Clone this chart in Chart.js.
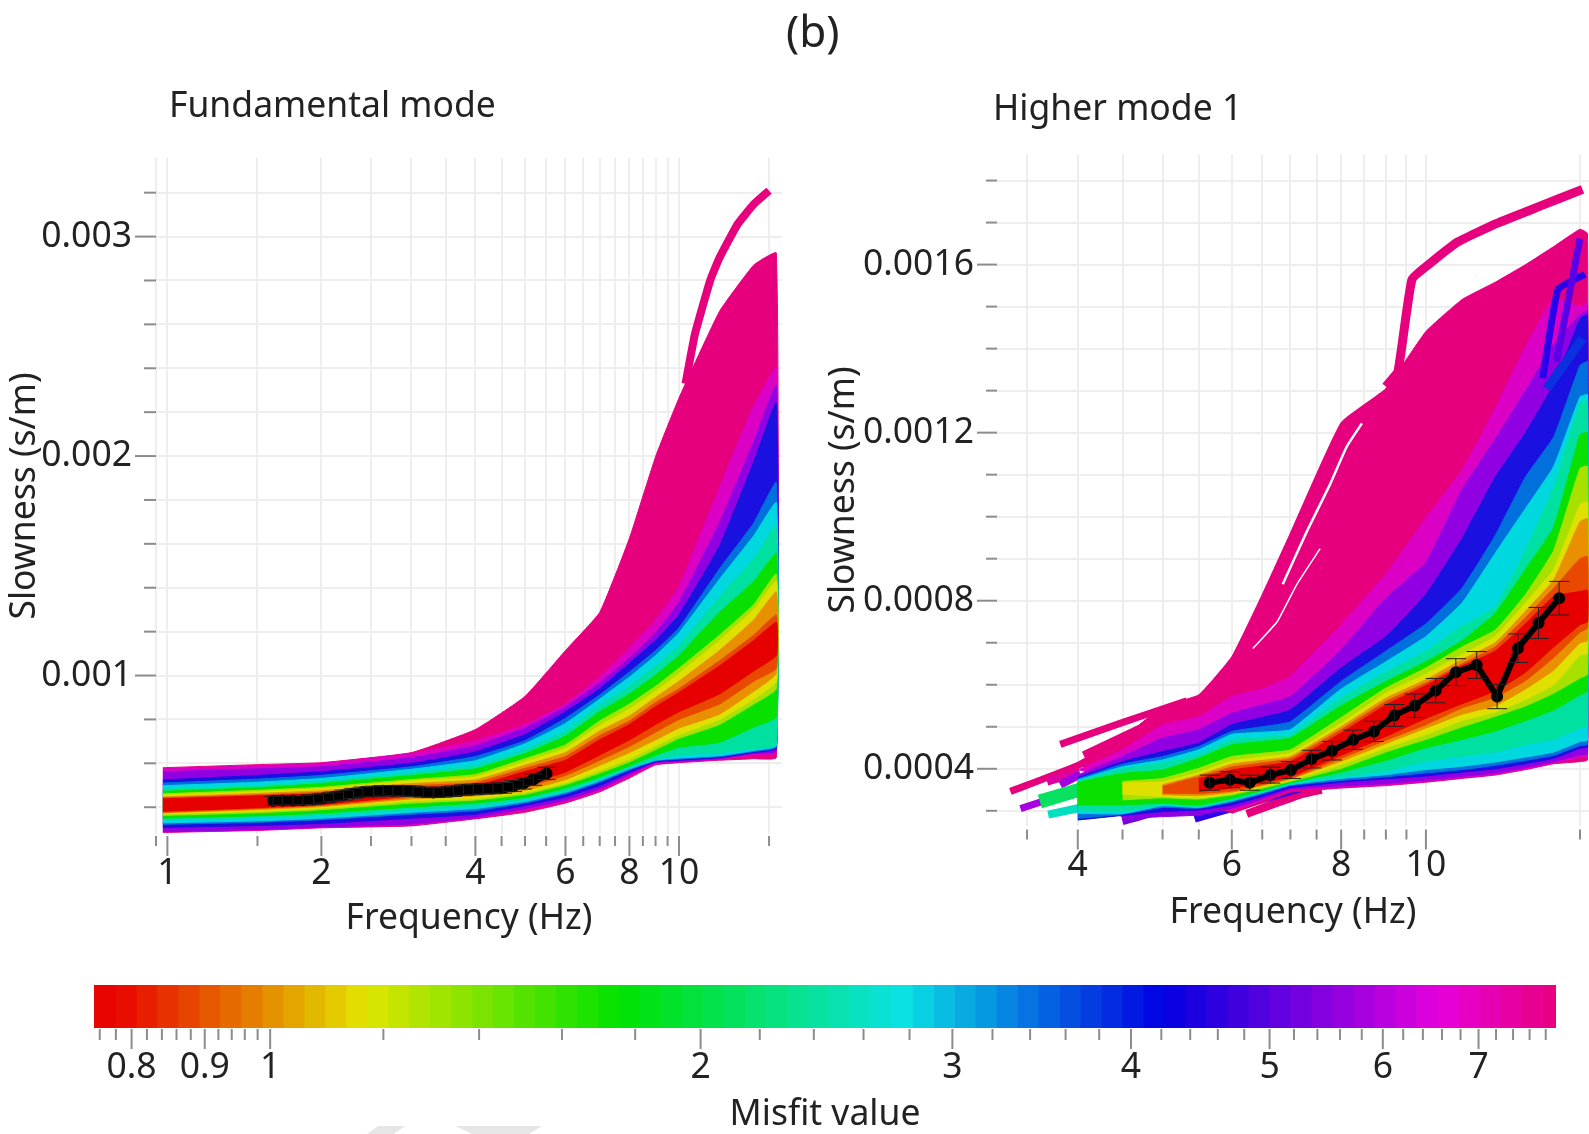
<!DOCTYPE html>
<html>
<head>
<meta charset="utf-8">
<title>Misfit curves</title>
<script src="https://cdn.jsdelivr.net/npm/chart.js@4"></script>
<style>
  html, body { margin: 0; padding: 0; background: #fff; width: 1589px; height: 1134px; overflow: hidden; }
  body { position: relative; font-family: "Noto Sans", sans-serif; color: #222; }
  .holder { position: absolute; filter: blur(0.7px); }
  .holder canvas { display: block; }
  .label { position: absolute; white-space: nowrap; filter: blur(0.5px); line-height: 1; }
  .mark { position: absolute; background: #e6e6e6; }
</style>
</head>
<body>
<div class="mark" style="left:367px;top:1126px;width:38px;height:8px;clip-path:polygon(30% 0,100% 0,70% 100%,0 100%)"></div>
<div class="mark" style="left:455px;top:1126px;width:87px;height:8px;clip-path:polygon(0 0,100% 0,85% 100%,20% 100%)"></div>
<div class="label" style="left:786px;top:8px;font-size:44px">(b)</div>
<div class="label" style="left:169px;top:86px;font-size:35.5px">Fundamental mode</div>
<div class="label" style="left:993px;top:89px;font-size:35.5px">Higher mode 1</div>
<div class="holder" style="left:0;top:140px;width:800px;height:810px"><canvas id="fundChart" width="800" height="810"></canvas></div>
<div class="holder" style="left:800px;top:140px;width:789px;height:810px"><canvas id="modeChart" width="789" height="810"></canvas></div>
<div class="holder" style="left:0;top:960px;width:1589px;height:174px"><canvas id="barChart" width="1589" height="174"></canvas></div>
<script>
// slowness values are in 1e-6 s/m
const levelColors = ['#e6007e', '#dc00c4', '#9000e2', '#1a10e0', '#0070dc', '#00d8e0', '#00e0a0', '#08e000', '#a8e000', '#e0e000', '#e89000', '#e84800', '#e60000'];

// Fundamental mode
const fundFreq = [0.98, 1.5, 2, 3, 4, 5, 6, 7, 8, 9, 10, 12, 14, 15.5];
const fundPinkHi = [580, 594, 603, 649, 754, 905, 1114, 1288, 1625, 1997, 2264, 2659, 2870, 2925];
const fundMagHi = [575, 589, 600, 645, 703, 777, 870, 993, 1125, 1253, 1404, 1857, 2229, 2403];
const fundPurHi = [561, 575, 584, 626, 680, 761, 858, 967, 1079, 1195, 1334, 1695, 2066, 2322];
const fundBlueHi = [524, 545, 561, 600, 652, 731, 835, 940, 1056, 1160, 1276, 1590, 1973, 2241];
const fundLblueHi = [510, 528, 545, 584, 631, 703, 805, 912, 1016, 1114, 1218, 1486, 1695, 1880];
const fundCyanHi = [498, 514, 531, 573, 612, 689, 782, 893, 993, 1091, 1195, 1439, 1637, 1788];
const fundTealHi = [482, 498, 517, 556, 589, 661, 747, 863, 951, 1044, 1137, 1358, 1532, 1683];
const fundGreenHi = [473, 489, 508, 545, 575, 645, 724, 835, 916, 1002, 1091, 1288, 1428, 1555];
const fundLimeHi = [461, 477, 491, 526, 549, 621, 684, 793, 870, 951, 1033, 1184, 1323, 1462];
const fundYellowHi = [454, 470, 484, 519, 538, 607, 668, 772, 847, 928, 1009, 1160, 1300, 1428];
const fundOrangeHi = [447, 463, 475, 508, 524, 591, 649, 747, 816, 900, 974, 1114, 1253, 1381];
const fundOredHi = [443, 456, 468, 498, 512, 577, 631, 726, 793, 877, 940, 1067, 1184, 1276];
const fundRedHi = [438, 452, 461, 489, 498, 563, 614, 707, 777, 858, 923, 1044, 1160, 1242];
const fundRedLo = [382, 398, 412, 452, 475, 505, 561, 638, 707, 777, 835, 916, 1021, 1091];
const fundOredLo = [377, 394, 408, 445, 463, 491, 545, 614, 677, 742, 800, 870, 974, 1033];
const fundOrangeLo = [375, 389, 403, 438, 452, 477, 526, 591, 649, 707, 761, 824, 928, 1009];
const fundYellowLo = [370, 382, 396, 429, 440, 468, 512, 568, 621, 680, 731, 800, 893, 974];
const fundLimeLo = [363, 375, 389, 419, 433, 459, 503, 556, 607, 663, 714, 777, 870, 940];
const fundGreenLo = [350, 361, 373, 401, 419, 445, 487, 538, 589, 638, 673, 696, 765, 812];
const fundTealLo = [343, 354, 363, 389, 405, 436, 475, 528, 582, 621, 638, 649, 668, 684];
const fundCyanLo = [329, 338, 350, 377, 394, 426, 468, 521, 575, 614, 624, 635, 659, 680];
const fundLblueLo = [322, 331, 343, 368, 384, 419, 461, 514, 570, 612, 619, 631, 654, 675];
const fundBlueLo = [308, 317, 326, 350, 368, 408, 447, 498, 559, 607, 614, 626, 649, 670];
const fundPurLo = [289, 299, 310, 324, 354, 394, 433, 484, 549, 603, 610, 621, 645, 656];
const fundMagLo = [287, 296, 308, 320, 350, 387, 426, 477, 542, 598, 607, 619, 638, 649];
const fundPinkLo = [285, 294, 306, 315, 347, 377, 419, 470, 533, 593, 603, 614, 621, 626];
const fundOutFreq = [10.3, 10.74, 11.5, 12, 13, 14, 15];
const fundOutVals = [2330, 2554, 2798, 2903, 3054, 3147, 3209];
const fundObsFreq = [1.61, 1.68, 1.76, 1.84, 1.93, 2.02, 2.11, 2.21, 2.31, 2.41, 2.53, 2.64, 2.76, 2.89, 3.02, 3.16, 3.31, 3.46, 3.62, 3.79, 3.96, 4.14, 4.33, 4.53, 4.74, 4.96, 5.19, 5.51];
const fundObsVals = [429, 431, 431, 432, 435, 441, 447, 455, 463, 469, 472, 475, 475, 475, 473, 469, 467, 469, 473, 478, 481, 484, 485, 488, 496, 508, 526, 554];
const fundObsErr = [21, 21, 21, 21, 22, 22, 22, 23, 23, 23, 24, 24, 24, 24, 24, 23, 23, 23, 24, 24, 24, 24, 24, 24, 25, 25, 26, 28];
const fundTicksX = [0.95, 1, 1.5, 2, 2.5, 3, 3.5, 4, 4.5, 5, 5.5, 6, 6.5, 7, 7.5, 8, 8.5, 9, 9.5, 10, 15];
const fundLabelsX = [1, 2, 4, 6, 8, 10];
const fundTicksY = [400, 600, 800, 1000, 1200, 1400, 1600, 1800, 2000, 2200, 2400, 2600, 2800, 3000, 3200];
const fundLabelsY = [1000, 2000, 3000];

// Higher mode 1
const modeFreq = [4, 4.5, 5, 5.5, 6, 6.5, 7, 8, 9, 10, 11, 12, 13, 14, 15, 15.3];
const modePinkHi = [408, 473, 548, 576, 667, 815, 961, 1224, 1305, 1441, 1517, 1558, 1600, 1643, 1684, 1674];
const modeMagHi = [397, 445, 504, 524, 572, 590, 620, 743, 864, 997, 1112, 1258, 1405, 1520, 1500, 1510];
const modePurHi = [385, 429, 473, 493, 532, 552, 572, 683, 806, 892, 1065, 1185, 1300, 1410, 1480, 1490];
const modeBlueHi = [379, 417, 441, 461, 505, 522, 540, 640, 715, 815, 948, 1094, 1200, 1315, 1470, 1480];
const modeLblueHi = [376, 411, 429, 453, 489, 500, 512, 608, 680, 745, 830, 955, 1095, 1190, 1360, 1369];
const modeCyanHi = [373, 405, 421, 445, 482, 487, 493, 590, 655, 715, 795, 913, 1020, 1120, 1285, 1290];
const modeTealHi = [371, 400, 413, 433, 469, 475, 481, 568, 630, 680, 740, 785, 920, 1070, 1270, 1275];
const modeGreenHi = [368, 389, 397, 425, 457, 465, 473, 550, 608, 655, 705, 770, 875, 975, 1195, 1200];
const modeLimeHi = [null, 370, 377, 401, 429, 437, 445, 522, 592, 640, 690, 730, 815, 920, 1115, 1120];
const modeYellowHi = [null, 366, 369, 391, 419, 428, 437, 508, 580, 625, 672, 715, 795, 875, 1028, 1035];
const modeOrangeHi = [null, null, 362, 385, 411, 420, 429, 500, 568, 612, 660, 700, 775, 850, 988, 995];
const modeOredHi = [null, null, 358, 381, 404, 414, 424, 493, 560, 604, 650, 690, 760, 830, 900, 905];
const modeRedHi = [null, null, null, 376, 397, 407, 417, 485, 552, 598, 645, 680, 745, 810, 822, 825];
const modeRedLo = [null, null, null, 346, 354, 367, 381, 432, 477, 520, 555, 585, 630, 690, 743, 750];
const modeOredLo = [null, null, 342, 341, 347, 362, 377, 425, 468, 505, 545, 570, 610, 665, 725, 735];
const modeOrangeLo = [null, null, 338, 336, 344, 360, 376, 418, 460, 497, 530, 550, 590, 635, 700, 705];
const modeYellowLo = [null, 340, 334, 331, 341, 357, 373, 410, 450, 482, 515, 535, 565, 600, 671, 675];
const modeLimeLo = [null, 326, 331, 328, 338, 354, 370, 401, 440, 470, 500, 525, 550, 580, 616, 625];
const modeGreenLo = [314, 314, 318, 314, 330, 348, 367, 392, 420, 450, 470, 490, 515, 540, 576, 585];
const modeTealLo = [302, 298, 314, 310, 326, 345, 365, 381, 395, 418, 430, 440, 458, 470, 497, 500];
const modeCyanLo = [294, 293, 312, 308, 324, 343, 362, 377, 386, 398, 406, 416, 428, 440, 465, 468];
const modeLblueLo = [282, 292, 308, 306, 321, 340, 360, 372, 381, 390, 398, 408, 420, 432, 455, 458];
const modeBlueLo = [278, 289, 298, 302, 314, 334, 355, 368, 376, 383, 392, 400, 412, 425, 449, 452];
const modePurLo = [null, 282, 286, 290, 306, 328, 351, 359, 365, 373, 382, 390, 403, 417, 433, 436];
const modeMagLo = [null, null, null, null, 302, 325, 349, 356, 362, 370, 379, 387, 400, 414, 427, 429];
const modePinkLo = [null, null, null, null, 294, 319, 344, 354, 360, 368, 377, 385, 398, 412, 417, 421];

// single curves that stand apart from the fan
const outTopFreq = [9.0, 9.29, 9.64, 10.18, 10.9, 12.05, 13.5, 15.1];
const outTopVals = [1310, 1346, 1565, 1608, 1655, 1698, 1739, 1779];
const stripTopFreq = [3.82, 4.47, 5.33];
const stripTopVals = [458, 508, 562];
const stripMidFreq = [4.06, 4.75, 5.2];
const stripMidVals = [433, 500, 530];
const stripLowFreq = [3.35, 4.02, 4.75];
const stripLowVals = [346, 410, 496];
const stripMagFreq = [3.69, 4.02];
const stripMagVals = [369, 393];
const stripPurFreq = [3.44, 3.79, 4.1];
const stripPurVals = [305, 334, 355];
const stripPur3Freq = [3.82, 4.02];
const stripPur3Vals = [362, 386];
const stripGreenFreq = [3.62, 4.2];
const stripGreenVals = [322, 362];
const stripTealFreq = [3.7, 4.2];
const stripTealVals = [291, 315];
const stripPur2Freq = [4.5, 4.93, 5.33];
const stripPur2Vals = [274, 298, 329];
const stripBlueFreq = [5.44, 7.17];
const stripBlueVals = [281, 353];
const stripPink2Freq = [6.24, 7.17, 7.6];
const stripPink2Vals = [293, 338, 350];
const tipBlueFreq = [13.6, 14.16, 15.2];
const tipBlueVals = [1329, 1541, 1577];
const tipPurFreq = [14.1, 15];
const tipPurVals = [1369, 1662];
const tipBlue2Freq = [13.75, 15.1];
const tipBlue2Vals = [1305, 1424];
const gapAFreq = [6.34, 6.76, 7.12, 7.57];
const gapAVals = [686, 750, 839, 924];
const gapBFreq = [6.86, 7.31, 7.77, 8.12, 8.45];
const gapBVals = [839, 965, 1077, 1167, 1222];
const modeObsFreq = [5.66, 5.97, 6.29, 6.64, 7.01, 7.4, 7.81, 8.26, 8.72, 9.2, 9.71, 10.26, 10.82, 11.43, 12.06, 12.74, 13.45, 14.2];
const modeObsVals = [367, 374, 367, 385, 397, 423, 443, 469, 489, 527, 550, 586, 630, 647, 572, 687, 747, 806];
const modeObsErr = [18, 19, 18, 19, 20, 21, 22, 23, 24, 26, 28, 29, 32, 32, 29, 34, 37, 40];
const modeTicksX = [3.5, 4, 4.5, 5, 5.5, 6, 6.5, 7, 7.5, 8, 8.5, 9, 9.5, 10, 15];
const modeLabelsX = [4, 6, 8, 10];
const modeTicksY = [300, 400, 500, 600, 700, 800, 900, 1000, 1100, 1200, 1300, 1400, 1500, 1600, 1700, 1800];
const modeLabelsY = [400, 800, 1200, 1600];

// Colour bar
const misfitEdges = [0.753, 0.779, 0.806, 0.833, 0.862, 0.892, 0.922, 0.954, 0.987, 1.021, 1.056, 1.092, 1.13, 1.169, 1.209, 1.25, 1.293, 1.338, 1.384, 1.431, 1.48, 1.531, 1.584, 1.638, 1.695, 1.753, 1.813, 1.875, 1.94, 2.006, 2.075, 2.147, 2.22, 2.297, 2.376, 2.457, 2.542, 2.629, 2.72, 2.813, 2.91, 3.01, 3.113, 3.22, 3.331, 3.445, 3.564, 3.686, 3.813, 3.944, 4.08, 4.22, 4.365, 4.515, 4.67, 4.831, 4.997, 5.169, 5.346, 5.53, 5.72, 5.917, 6.12, 6.33, 6.55, 6.775, 7.008, 7.25, 7.5, 7.76, 7.93];
const misfitTicks = [0.76, 0.78, 0.8, 0.82, 0.84, 0.86, 0.88, 0.9, 0.92, 0.94, 0.96, 0.98, 1, 1.2, 1.4, 1.6, 1.8, 2, 2.2, 2.4, 2.6, 2.8, 3, 3.2, 3.4, 3.6, 3.8, 4, 4.2, 4.4, 4.6, 4.8, 5, 5.2, 5.4, 5.6, 5.8, 6, 6.2, 6.4, 6.6, 6.8, 7, 7.2, 7.4, 7.6, 7.8];
const misfitLabels = [0.8, 0.9, 1, 2, 3, 4, 5, 6, 7];
const stopValues = [0.753, 0.8, 1.164, 1.755, 2.76, 4.2, 6.57, 7.93];
const stopColors = [[232, 0, 0], [232, 16, 0], [226, 230, 0], [0, 226, 0], [10, 226, 226], [0, 0, 226], [230, 0, 220], [232, 0, 126]];

const labelFont = { family: '"Noto Sans", sans-serif', size: 35.5 };
const tickColor = '#222';

function bandColor(value) {
    const v = Math.log(value);
    for (let i = 1; i < stopValues.length; i++) {
        if (value <= stopValues[i]) {
            const a = Math.log(stopValues[i - 1]);
            const b = Math.log(stopValues[i]);
            const t = (v - a) / (b - a);
            const c = stopColors[i - 1].map((ch, k) => Math.round(ch + (stopColors[i][k] - ch) * t));
            return `rgb(${c[0]},${c[1]},${c[2]})`;
        }
    }
    return 'rgb(232,0,126)';
}

function shapePoints(freq, hi, lo) {
    const pts = [];
    freq.forEach((f, i) => { if (hi[i] !== null) pts.push({ x: f, y: hi[i] }); });
    for (let i = freq.length - 1; i >= 0; i--) {
        if (lo[i] !== null) pts.push({ x: freq[i], y: lo[i] });
    }
    return pts;
}

function curvePoints(freq, vals) {
    return freq.map((f, i) => ({ x: f, y: vals[i] }));
}

function levelDatasets(freq, hiRows, loRows) {
    return hiRows.map((hi, i) => ({
        data: shapePoints(freq, hi, loRows[i]),
        borderColor: levelColors[i],
        backgroundColor: levelColors[i],
        borderWidth: 1,
        pointRadius: 0,
        tension: 0.12,
        fill: 'shape',
        order: 100 - i * 2
    }));
}

function stripDataset(freq, vals, color, width, order) {
    return {
        data: curvePoints(freq, vals),
        borderColor: color,
        backgroundColor: color,
        borderWidth: width,
        borderCapStyle: 'butt',
        tension: 0.12,
        pointRadius: 0,
        fill: false,
        order: order
    };
}

function obsDataset(freq, vals, width, radius) {
    return {
        data: curvePoints(freq, vals),
        borderColor: '#000',
        backgroundColor: '#000',
        borderWidth: width,
        pointRadius: radius,
        pointBorderWidth: 0,
        fill: false,
        order: 1
    };
}

function noPadding(s) {
    s.paddingTop = 0;
    s.paddingBottom = 0;
    s.paddingLeft = 0;
    s.paddingRight = 0;
}

// tick marks with two lengths, placed through the chart's scales
const axisMarks = {
    id: 'axisMarks',
    afterDraw(chart, args, opts) {
        const ctx = chart.ctx;
        const area = chart.chartArea;
        ctx.save();
        ctx.strokeStyle = '#8c8c8c';
        ctx.lineWidth = 2;
        chart.scales.x.ticks.forEach(t => {
            const x = chart.scales.x.getPixelForValue(t.value);
            const len = t.label !== '' ? opts.xMajor : opts.xMinor;
            ctx.beginPath();
            ctx.moveTo(x, area.bottom + opts.xOffset);
            ctx.lineTo(x, area.bottom + opts.xOffset + len);
            ctx.stroke();
        });
        if (opts.yMajor) {
            chart.scales.y.ticks.forEach(t => {
                const y = chart.scales.y.getPixelForValue(t.value);
                const len = t.label !== '' ? opts.yMajor : opts.yMinor;
                ctx.beginPath();
                ctx.moveTo(area.left, y);
                ctx.lineTo(area.left - len, y);
                ctx.stroke();
            });
        }
        ctx.restore();
    }
};

const errorBars = {
    id: 'errorBars',
    afterDatasetsDraw(chart, args, opts) {
        if (!opts.freq) return;
        const ctx = chart.ctx;
        ctx.save();
        ctx.strokeStyle = '#222';
        ctx.lineWidth = 1;
        opts.freq.forEach((f, i) => {
            const x = chart.scales.x.getPixelForValue(f);
            const top = chart.scales.y.getPixelForValue(opts.vals[i] + opts.errs[i]);
            const low = chart.scales.y.getPixelForValue(opts.vals[i] - opts.errs[i]);
            ctx.beginPath();
            ctx.moveTo(x, top);
            ctx.lineTo(x, low);
            ctx.moveTo(x - opts.cap, top);
            ctx.lineTo(x + opts.cap, top);
            ctx.moveTo(x - opts.cap, low);
            ctx.lineTo(x + opts.cap, low);
            ctx.stroke();
        });
        ctx.restore();
    }
};

function slownessChart(id, cfg) {
    return new Chart(document.getElementById(id), {
        type: 'line',
        data: { datasets: cfg.datasets },
        plugins: [axisMarks, errorBars],
        options: {
            responsive: false,
            animation: false,
            layout: { padding: cfg.padding, autoPadding: false },
            plugins: {
                legend: { display: false },
                tooltip: { enabled: false },
                filler: { drawTime: 'beforeDatasetDraw' },
                axisMarks: cfg.marks,
                errorBars: cfg.errors
            },
            scales: {
                x: {
                    type: 'logarithmic',
                    min: cfg.xMin,
                    max: cfg.xMax,
                    afterBuildTicks: s => { s.ticks = cfg.xTicks.map(v => ({ value: v })); },
                    afterFit: s => { s.height = cfg.xHeight; noPadding(s); },
                    grid: { color: '#eeeeee', lineWidth: 2, drawTicks: false },
                    border: { display: false },
                    ticks: {
                        autoSkip: false,
                        maxRotation: 0,
                        color: tickColor,
                        font: labelFont,
                        padding: cfg.xPad,
                        callback: v => (cfg.xLabels.includes(v) ? String(v) : '')
                    },
                    title: { display: true, text: 'Frequency (Hz)', color: tickColor, font: labelFont, padding: { top: 0, bottom: cfg.xTitlePad } }
                },
                y: {
                    min: cfg.yMin,
                    max: cfg.yMax,
                    afterBuildTicks: s => { s.ticks = cfg.yTicks.map(v => ({ value: v })); },
                    afterFit: s => { s.width = cfg.yWidth; noPadding(s); },
                    grid: { color: '#eeeeee', lineWidth: 2, drawTicks: false },
                    border: { display: false },
                    ticks: {
                        autoSkip: false,
                        color: tickColor,
                        font: labelFont,
                        padding: cfg.yPad,
                        callback: v => (cfg.yLabels.includes(v) ? (v / 1e6).toFixed(cfg.yDigits) : '')
                    },
                    title: { display: true, text: 'Slowness (s/m)', color: tickColor, font: labelFont, padding: { top: cfg.yTitlePad, bottom: 0 } }
                }
            }
        }
    });
}

const fundHi = [fundPinkHi, fundMagHi, fundPurHi, fundBlueHi, fundLblueHi, fundCyanHi, fundTealHi, fundGreenHi, fundLimeHi, fundYellowHi, fundOrangeHi, fundOredHi, fundRedHi];
const fundLo = [fundPinkLo, fundMagLo, fundPurLo, fundBlueLo, fundLblueLo, fundCyanLo, fundTealLo, fundGreenLo, fundLimeLo, fundYellowLo, fundOrangeLo, fundOredLo, fundRedLo];
const modeHi = [modePinkHi, modeMagHi, modePurHi, modeBlueHi, modeLblueHi, modeCyanHi, modeTealHi, modeGreenHi, modeLimeHi, modeYellowHi, modeOrangeHi, modeOredHi, modeRedHi];
const modeLo = [modePinkLo, modeMagLo, modePurLo, modeBlueLo, modeLblueLo, modeCyanLo, modeTealLo, modeGreenLo, modeLimeLo, modeYellowLo, modeOrangeLo, modeOredLo, modeRedLo];

slownessChart('fundChart', {
    datasets: [
        obsDataset(fundObsFreq, fundObsVals, 10, 6),
        ...levelDatasets(fundFreq, fundHi, fundLo),
        stripDataset(fundOutFreq, fundOutVals, levelColors[0], 8, 110)
    ],
    padding: { left: 0, right: 18, top: 18, bottom: 0 },
    xMin: 0.95, xMax: 15.9, yMin: 278, yMax: 3358,
    xTicks: fundTicksX, xLabels: fundLabelsX, yTicks: fundTicksY, yLabels: fundLabelsY, yDigits: 3,
    xHeight: 116, yWidth: 156, xPad: 19, yPad: 24, xTitlePad: 10, yTitlePad: 4,
    marks: { xOffset: 2, xMinor: 10, xMajor: 20, yMinor: 12, yMajor: 21 },
    errors: { freq: fundObsFreq, vals: fundObsVals, errs: fundObsErr, cap: 9 }
});

slownessChart('modeChart', {
    datasets: [
        obsDataset(modeObsFreq, modeObsVals, 6, 6),
        stripDataset(tipPurFreq, tipPurVals, '#5a00e6', 7, 70),
        stripDataset(tipBlueFreq, tipBlueVals, '#2a00e8', 7, 71),
        stripDataset(tipBlue2Freq, tipBlue2Vals, '#0a30e0', 9, 72),
        ...levelDatasets(modeFreq, modeHi, modeLo),
        stripDataset(gapAFreq, gapAVals, '#ffffff', 1.5, 99),
        stripDataset(gapBFreq, gapBVals, '#ffffff', 2.5, 99),
        stripDataset(outTopFreq, outTopVals, levelColors[0], 9, 110),
        stripDataset(stripTopFreq, stripTopVals, levelColors[0], 7, 111),
        stripDataset(stripMidFreq, stripMidVals, levelColors[0], 7, 112),
        stripDataset(stripLowFreq, stripLowVals, levelColors[0], 7, 113),
        stripDataset(stripMagFreq, stripMagVals, '#e000a0', 8, 109),
        stripDataset(stripPur3Freq, stripPur3Vals, '#a000e0', 8, 108),
        stripDataset(stripPurFreq, stripPurVals, '#a800e0', 7, 114),
        stripDataset(stripGreenFreq, stripGreenVals, '#08e060', 14, 107),
        stripDataset(stripTealFreq, stripTealVals, '#00e0c0', 8, 115),
        stripDataset(stripPur2Freq, stripPur2Vals, '#7a00e6', 7, 116),
        stripDataset(stripBlueFreq, stripBlueVals, '#3000e6', 8, 117),
        stripDataset(stripPink2Freq, stripPink2Vals, levelColors[0], 8, 118)
    ],
    padding: { left: 0, right: 0, top: 14.5, bottom: 0 },
    xMin: 3.234, xMax: 15.36, yMin: 265, yMax: 1862,
    xTicks: modeTicksX, xLabels: modeLabelsX, yTicks: modeTicksY, yLabels: modeLabelsY, yDigits: 4,
    xHeight: 124.5, yWidth: 197, xPad: 19, yPad: 23, xTitlePad: 16, yTitlePad: 23,
    marks: { xOffset: 4, xMinor: 10, xMajor: 20, yMinor: 11, yMajor: 20 },
    errors: { freq: modeObsFreq, vals: modeObsVals, errs: modeObsErr, cap: 10 }
});

new Chart(document.getElementById('barChart'), {
    type: 'bar',
    data: {
        labels: ['misfit'],
        datasets: misfitEdges.slice(0, -1).map((edge, i) => ({
            data: [[edge, misfitEdges[i + 1]]],
            backgroundColor: bandColor(Math.sqrt(edge * misfitEdges[i + 1])),
            borderWidth: 0,
            grouped: false,
            barPercentage: 1,
            categoryPercentage: 1
        }))
    },
    plugins: [axisMarks],
    options: {
        responsive: false,
        animation: false,
        indexAxis: 'y',
        layout: { padding: { left: 94, right: 33, top: 25, bottom: 0 }, autoPadding: false },
        plugins: {
            legend: { display: false },
            tooltip: { enabled: false },
            axisMarks: { xOffset: 1, xMinor: 11, xMajor: 20 }
        },
        scales: {
            x: {
                type: 'logarithmic',
                min: 0.753,
                max: 7.93,
                afterBuildTicks: s => { s.ticks = misfitTicks.map(v => ({ value: v })); },
                afterFit: s => { s.height = 106; noPadding(s); },
                grid: { display: false },
                border: { display: false },
                ticks: {
                    autoSkip: false,
                    maxRotation: 0,
                    color: tickColor,
                    font: labelFont,
                    padding: 11,
                    callback: v => (misfitLabels.includes(v) ? String(v) : '')
                },
                title: { display: true, text: 'Misfit value', color: tickColor, font: labelFont, padding: { top: 0, bottom: -2 } }
            },
            y: { display: false }
        }
    }
});
</script>
</body>
</html>
